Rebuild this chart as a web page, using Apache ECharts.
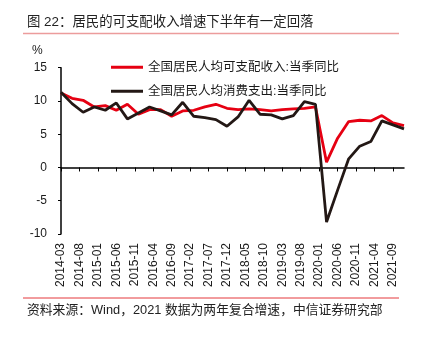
<!DOCTYPE html>
<html>
<head>
<meta charset="utf-8">
<script src="https://cdn.jsdelivr.net/npm/echarts@6/dist/echarts.min.js"></script>
<style>
html,body{margin:0;padding:0;background:#fff;}
#c{width:422px;height:337px;}
</style>
</head>
<body>
<div id="c"></div>
<script>
// Quarter-end dates of the observations
const quarters = [
  '2014-03','2014-06','2014-09','2014-12',
  '2015-03','2015-06','2015-09','2015-12',
  '2016-03','2016-06','2016-09','2016-12',
  '2017-03','2017-06','2017-09','2017-12',
  '2018-03','2018-06','2018-09','2018-12',
  '2019-03','2019-06','2019-09','2019-12',
  '2020-03','2020-06','2020-09','2020-12',
  '2021-03','2021-06','2021-09','2021-12'
];
// 全国居民人均可支配收入:当季同比 (%)
const incomeYoY = [
  11.2, 10.4, 10.1, 9.1,
  9.3, 8.6, 9.5, 8.0,
  8.7, 8.7, 7.7, 8.5,
  8.6, 9.1, 9.5, 8.9,
  8.7, 8.8, 8.7, 8.5,
  8.7, 8.8, 8.9, 9.1,
  0.8, 4.4, 6.9, 7.1,
  7.0, 7.8, 6.7, 6.3
];
// 全国居民人均消费支出:当季同比 (%)
const spendingYoY = [
  11.3, 9.6, 8.3, 9.1,
  8.6, 9.7, 7.3, 8.2,
  9.1, 8.5, 7.9, 9.8,
  7.7, 7.5, 7.2, 6.2,
  7.6, 10.1, 8.0, 7.9,
  7.3, 7.8, 9.9, 9.5,
  -8.2, -3.4, 1.3, 3.2,
  3.9, 7.0, 6.4, 5.8
];
const seriesNames = ['全国居民人均可支配收入:当季同比', '全国居民人均消费支出:当季同比'];
const firstMonth = '2014-03';
const lastMonth = '2021-12';
const yTicks = [-10, -5, 0, 5, 10, 15];

// monthly category axis (labels every 5 months)
function buildMonths(a, b) {
  let [y, m] = a.split('-').map(Number);
  const [y2, m2] = b.split('-').map(Number);
  const out = [];
  while (y < y2 || (y === y2 && m <= m2)) {
    out.push(y + '-' + String(m).padStart(2, '0'));
    m++; if (m > 12) { m = 1; y++; }
  }
  return out;
}
const months = buildMonths(firstMonth, lastMonth);
const incomeData = quarters.map((q, i) => [q, incomeYoY[i]]);
const spendData = quarters.map((q, i) => [q, spendingYoY[i]]);

const FONT = '"Liberation Sans", Arial, "Noto Sans CJK SC", sans-serif';
const chart = echarts.init(document.getElementById('c'), null, {renderer: 'canvas'});
chart.setOption({
  animation: false,
  backgroundColor: '#fff',
  textStyle: {fontFamily: FONT},
  grid: {left: 61, right: 18, top: 67.7, bottom: 103, containLabel: false},
  legend: {
    orient: 'vertical',
    left: 106, top: 56,
    itemWidth: 32, itemHeight: 3, itemGap: 11.5,
    icon: 'rect',
    textStyle: {fontSize: 12.5, color: '#1a1a1a', fontFamily: FONT},
    data: seriesNames
  },
  xAxis: [
    {
      type: 'category', data: months, boundaryGap: false, position: 'bottom',
      axisLine: {show: false, onZero: false},
      axisTick: {show: false},
      axisLabel: {interval: 4, rotate: 90, margin: 9, fontSize: 12, color: '#1a1a1a', fontFamily: FONT},
      splitLine: {show: false}
    },
    {
      type: 'category', data: months, boundaryGap: false, position: 'top',
      axisLine: {show: true, onZero: true, lineStyle: {color: '#000', width: 1.5}},
      axisTick: {show: true, inside: true, interval: 4, length: 4, lineStyle: {color: '#000', width: 1}},
      axisLabel: {show: false},
      splitLine: {show: false}
    }
  ],
  yAxis: {
    type: 'value', min: yTicks[0], max: yTicks[yTicks.length - 1], interval: 5,
    axisLine: {show: true, onZero: false, lineStyle: {color: '#000', width: 1.5}},
    axisTick: {show: true, length: 3, lineStyle: {color: '#000', width: 1}},
    axisLabel: {margin: 14, fontSize: 12, color: '#1a1a1a', fontFamily: FONT},
    splitLine: {show: false}
  },
  series: [
    {
      name: seriesNames[0], type: 'line', xAxisIndex: 0, data: incomeData,
      symbol: 'none', lineStyle: {color: '#e60012', width: 2.8}, itemStyle: {color: '#e60012'},
      z: 2
    },
    {
      name: seriesNames[1], type: 'line', xAxisIndex: 0, data: spendData,
      symbol: 'none', lineStyle: {color: '#231815', width: 2.8}, itemStyle: {color: '#231815'},
      z: 3
    }
  ],
  graphic: [
    {type: 'text', left: 27, top: 16, style: {text: '图 22：居民的可支配收入增速下半年有一定回落', fontSize: 13.4, fill: '#222', fontFamily: FONT}},
    {type: 'line', shape: {x1: 23, y1: 33.5, x2: 399, y2: 33.5}, style: {stroke: '#ec9c9c', lineWidth: 1.5}},
    {type: 'text', left: 32, top: 45, style: {text: '%', fontSize: 12, fill: '#1a1a1a', fontFamily: FONT}},
    {type: 'line', shape: {x1: 23, y1: 298, x2: 399, y2: 298}, style: {stroke: '#e4393c', lineWidth: 1}},
    {type: 'text', left: 27, top: 304, style: {text: '资料来源：Wind，2021 数据为两年复合增速，中信证券研究部', fontSize: 12.8, fill: '#222', fontFamily: FONT}}
  ]
});
</script>
</body>
</html>
